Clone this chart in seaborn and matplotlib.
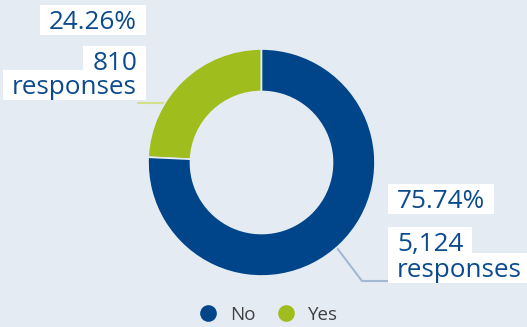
import matplotlib
matplotlib.use("Agg")
import matplotlib.pyplot as plt
import seaborn as sns
from matplotlib.lines import Line2D
from matplotlib.patches import Rectangle

categories = ["Yes", "No"]
percents = [24.26, 75.74]
responses = ["810", "5,124"]
colors = ["#a0bd1e", "#00458a"]
legend_order = ["No", "Yes"]

sns.set_theme(style="white")
plt.rcParams['font.family'] = ['Open Sans', 'DejaVu Sans']

BG = "#e4ebf3"
TXT = "#0b4a8e"
W, H = 527, 327
fig = plt.figure(figsize=(W / 100, H / 100), dpi=100, facecolor=BG)
ax = fig.add_axes([0, 0, 1, 1])
ax.set_facecolor(BG)

cx, cy, R = 261.5, H - 162.5, 113.5
wedges, _ = ax.pie(percents, colors=colors, startangle=90, counterclock=True,
                   center=(cx, cy), radius=R, frame=True,
                   wedgeprops=dict(width=42.5, edgecolor=BG, linewidth=1.2))
ax.set_xlim(0, W)
ax.set_ylim(0, H)
ax.axis("off")

# leader lines
ax.plot([138, 170], [H - 103, H - 103], color="#d4e08a", lw=1.5, zorder=0)
ax.plot([337, 362, 395], [H - 248, H - 281, H - 281], color="#a3b9d3", lw=1.5, zorder=0)

fs = 18.8
texts = []
# (x, baseline_y_px, text, ha)
specs = [
    (137, 29, f"{percents[0]:.2f}%", "right"),
    (137, 70, responses[0], "right"),
    (137, 94, "responses", "right"),
    (397, 208, f"{percents[1]:.2f}%", "left"),
    (397, 251, responses[1], "left"),
    (397, 277, "responses", "left"),
]
for x, yb, s, ha in specs:
    t = ax.text(x, H - yb, s, ha=ha, va="baseline", fontsize=fs, color=TXT, zorder=5)
    texts.append(t)

fig.canvas.draw()
renderer = fig.canvas.get_renderer()
inv = ax.transData.inverted()
padx = 9
for t, (x, yb, s, ha) in zip(texts, specs):
    bb = t.get_window_extent(renderer)
    (x0, _), (x1, _) = inv.transform([(bb.x0, bb.y0), (bb.x1, bb.y1)])
    top = yb - 24
    bot = yb + 6
    ax.add_patch(Rectangle((x0 - padx, H - bot), (x1 - x0) + 2 * padx, bot - top,
                           facecolor="white", edgecolor="none", zorder=4))

cmap = dict(zip(categories, colors))
handles = [Line2D([0], [0], marker="o", linestyle="", markersize=12,
                  markerfacecolor=cmap[c], markeredgecolor="none") for c in legend_order]
fig.legend(handles, legend_order, loc="center", bbox_to_anchor=(0.5, 1 - 315 / H),
           ncol=2, frameon=False, fontsize=13.5, handletextpad=0.15, columnspacing=0.65,
           labelcolor="#404040")

fig.savefig("out.png", dpi=100, facecolor=BG)
